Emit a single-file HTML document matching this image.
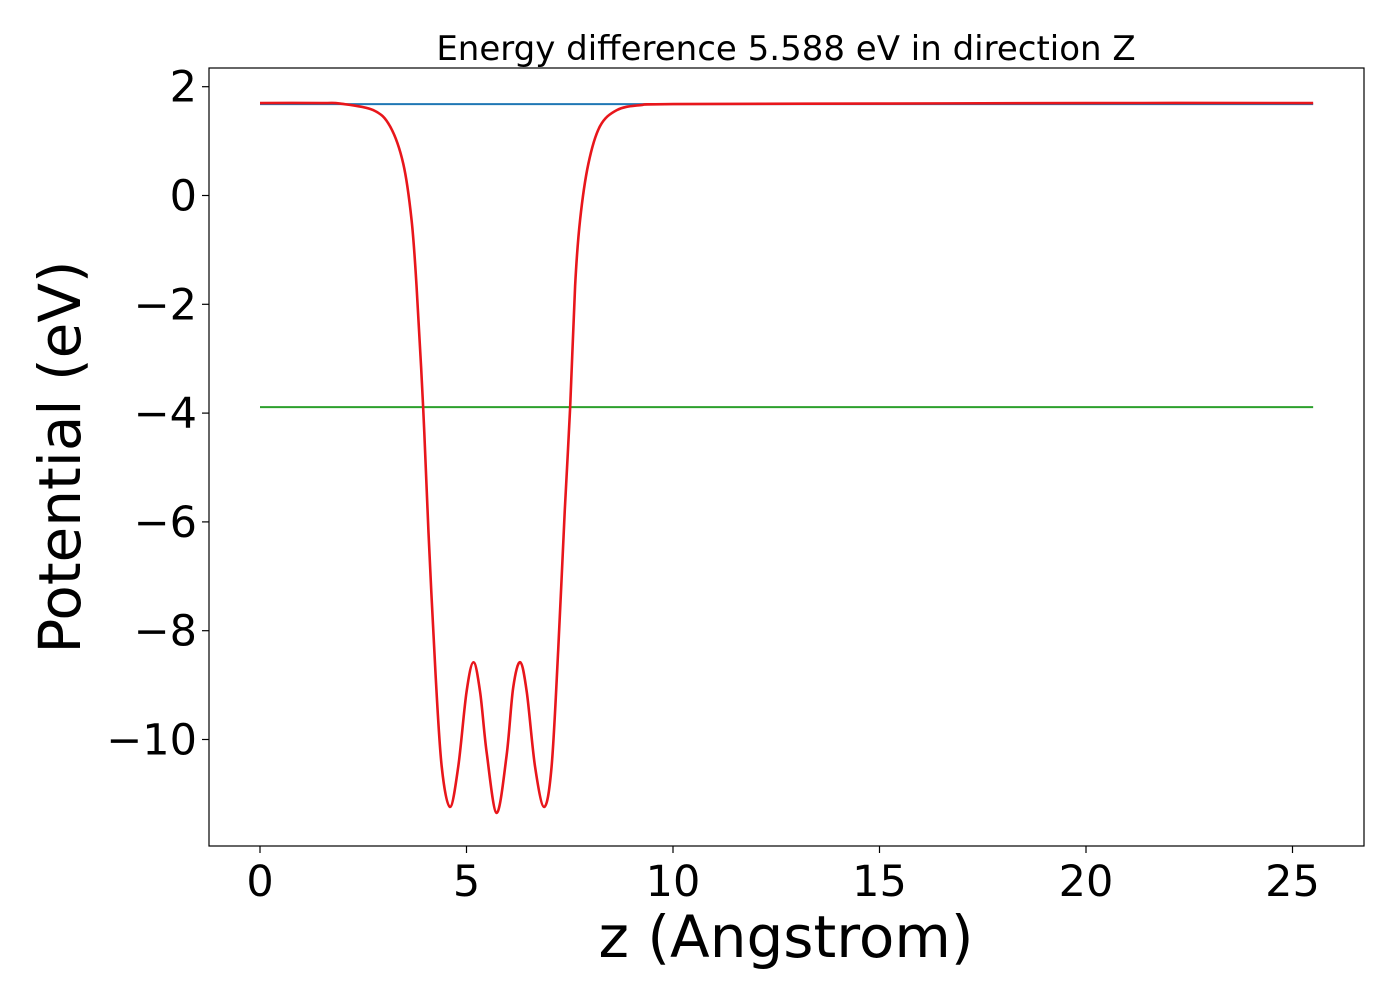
<!DOCTYPE html>
<html><head><meta charset="utf-8"><style>
body{margin:0;background:#fff;width:1400px;height:1000px;overflow:hidden}
svg text{font-family:"DejaVu Sans","Liberation Sans",sans-serif;fill:#000}
</style></head><body>
<svg id="chart" width="1400" height="1000">
<text x="786" y="60" font-size="34" text-anchor="middle">Energy difference 5.588 eV in direction Z</text>
<rect x="209" y="68" width="1155" height="778" fill="none" stroke="#000" stroke-width="1.2"/>
<g id="xt"></g><g id="yt"></g><g id="series"></g>
<text x="786" y="957" font-size="58" text-anchor="middle">z (Angstrom)</text>
<text transform="translate(80,457) rotate(-90)" font-size="58" text-anchor="middle">Potential (eV)</text>
</svg>
<script>
const zVals=[0,1.5,1.94,2.74,3.15,3.47,3.67,3.79,3.95,4.08,4.25,4.40,4.60,4.80,5.0,5.17,5.33,5.49,5.73,5.97,6.13,6.30,6.46,6.66,6.88,7.06,7.22,7.38,7.51,7.63,7.75,7.95,8.23,8.64,9.2,10,15,20,25.5];
const potVals=[1.70,1.70,1.69,1.57,1.27,0.58,-0.45,-1.66,-3.89,-6.2,-8.79,-10.5,-11.24,-10.5,-9.13,-8.58,-9.13,-10.25,-11.35,-10.3,-9.05,-8.58,-9.13,-10.5,-11.24,-10.5,-8.36,-5.78,-3.89,-1.66,-0.45,0.58,1.27,1.57,1.66,1.68,1.69,1.70,1.70];
const vacuumLevel=1.68;
const avgLevel=-3.89;
const zRange=[0,25.5];
const xTicks=[0,5,10,15,20,25];
const yTicks=[2,0,-2,-4,-6,-8,-10];
const yTickLabels=["2","0","\u22122","\u22124","\u22126","\u22128","\u221210"];
const NS="http://www.w3.org/2000/svg";
const X=v=>260+v*41.3;
const Y=v=>195.5-v*54.4;
function mk(tag,attrs,parent){const e=document.createElementNS(NS,tag);for(const k in attrs)e.setAttribute(k,attrs[k]);parent.appendChild(e);return e;}
const xt=document.getElementById('xt'),yt=document.getElementById('yt'),sg=document.getElementById('series');
xTicks.forEach(t=>{
 const l=mk('line',{x1:X(t),x2:X(t),y1:846,y2:853,stroke:'#000','stroke-width':1.2},xt);
 
 
 const tx=mk('text',{x:X(t),y:896,'font-size':43,'text-anchor':'middle'},xt);tx.textContent=String(t);
 
 
});
yTicks.forEach((t,i)=>{
 const l=mk('line',{x1:202,x2:209,y1:Y(t),y2:Y(t),stroke:'#000','stroke-width':1.2},yt);
 
 
 const tx=mk('text',{x:197,y:Y(t)+15,'font-size':43,'text-anchor':'end'},yt);tx.textContent=yTickLabels[i];
 
 
});
const b=mk('line',{x1:X(zRange[0]),x2:X(zRange[1]),y1:Y(vacuumLevel),y2:Y(vacuumLevel),stroke:'#1f77b4','stroke-width':2},sg);


const g=mk('line',{x1:X(zRange[0]),x2:X(zRange[1]),y1:Y(avgLevel),y2:Y(avgLevel),stroke:'#2ca02c','stroke-width':2},sg);


const pts=zVals.map((z,i)=>[X(z),Y(potVals[i])]);
let d='M'+pts[0][0]+','+pts[0][1];
for(let i=0;i<pts.length-1;i++){
 const p0=pts[Math.max(0,i-1)],p1=pts[i],p2=pts[i+1],p3=pts[Math.min(pts.length-1,i+2)];
 const c1=[p1[0]+(p2[0]-p0[0])/6,p1[1]+(p2[1]-p0[1])/6],c2=[p2[0]-(p3[0]-p1[0])/6,p2[1]-(p3[1]-p1[1])/6];
 d+=` C${c1[0]},${c1[1]} ${c2[0]},${c2[1]} ${p2[0]},${p2[1]}`;
}
const r=mk('path',{d:d,fill:'none',stroke:'#e8161b','stroke-width':2.6},sg);


</script>
</body></html>
